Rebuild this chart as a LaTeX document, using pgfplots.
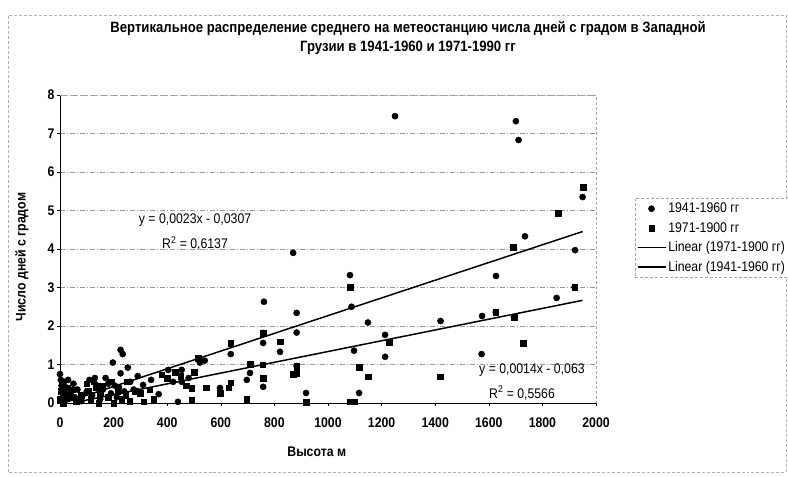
\documentclass[border=0pt]{standalone}
\usepackage{pgfplots}
\pgfplotsset{compat=1.18}
\usepackage{fontspec}
\setmainfont{Liberation Sans}[FakeStretch=0.88]
\pgfplotsset{
  mylines/.style={legend image code/.code={\draw[black, line width=1.5bp] (0bp,0bp) -- (28bp,0bp);}},
  mymarks/.style={legend image code/.code={\draw[##1,mark repeat=2,mark phase=2] plot coordinates {(0bp,0bp) (14bp,0bp) (28bp,0bp)};}}
}
\begin{document}
\begin{tikzpicture}
\path[use as bounding box] (0bp,0bp) rectangle (788bp,477bp);
\draw[gray!60, densely dashed, line width=0.6bp] (8bp,5bp) rectangle (786bp,462bp);
\node[font=\fontsize{15}{20}\selectfont\bfseries, align=center] at (408bp,439bp)
  {Вертикальное распределение среднего на метеостанцию числа дней с градом в Западной\\Грузии в 1941-1960 и 1971-1990 гг};
\begin{axis}[
  at={(60bp,74bp)}, anchor=south west,
  scale only axis, width=536bp, height=308bp,
  xmin=0, xmax=2000, ymin=0, ymax=8,
  xtick={0,200,...,2000}, ytick={0,1,...,8},
  axis lines*=left,
  axis line style={black, line width=0.7bp, -},
  tick align=outside, major tick length=3bp,
  tick style={black, line width=0.5bp},
  ymajorgrids,
  major grid style={gray!80, line width=0.5bp, dash pattern=on 5bp off 2bp on 1bp off 2bp},
  /pgf/number format/assume math mode=true,
  /pgf/number format/1000 sep={},
  ticklabel style={font=\fontsize{14}{16}\selectfont\bfseries},
  xticklabel style={yshift=-8bp},
  yticklabel style={xshift=1bp},
  xlabel={Высота м},
  ylabel={Число дней с градом},
  xlabel style={font=\fontsize{14}{16}\selectfont\bfseries, at={(axis description cs:0.479,0)}, anchor=center, yshift=-49bp},
  ylabel style={font=\fontsize{14}{16}\selectfont\bfseries, at={([xshift=-38bp]axis description cs:0,0.474)}, anchor=center},
  clip=false,
  legend style={at={(1.072,0.666)}, anchor=north west, draw=gray!70, densely dashed,
    font=\fontsize{14}{16}\selectfont, row sep=4bp, inner xsep=2bp, inner ysep=3bp,
    nodes={solid}},
  legend cell align=left,
]
\draw[gray!70, densely dashed, line width=0.5bp] (rel axis cs:0,1) -- (rel axis cs:1,1) -- (rel axis cs:1,0);
\addplot[only marks, mark=*, mark size=3.1bp, black, mymarks] coordinates {
(0,0.75)(3,0.6)(6,0.45)(8,0.3)(12,0.2)(15,0.55)(20,0.1)(25,0.4)(30,0.6)(40,0.25)(50,0.5)(55,0.15)(65,0.35)(80,0.05)(100,0.3)(110,0.6)(120,0.2)(130,0.65)(140,0.45)(150,0.1)(160,0.35)(170,0.65)(180,0.5)(190,0.25)(197,1.05)(205,0.45)(212,0.15)(220,0.4)(226,0.77)(226,1.38)(234,1.27)(240,0.3)(253,0.92)(262,0.55)(275,0.35)(290,0.7)(310,0.47)(340,0.6)(368,0.23)(404,0.86)(422,0.55)(440,0.03)(454,0.86)(454,0.55)(480,0.65)(522,1.05)(540,1.1)(597,0.39)(637,1.27)(697,0.6)(709,1.01)(709,0.78)(758,1.56)(758,1.82)(758,0.42)(761,2.63)(821,1.33)(870,3.9)(883,2.34)(883,1.83)(883,0.96)(918,0.26)(1082,3.32)(1082,3.01)(1088,2.5)(1097,1.36)(1116,0.26)(1149,2.09)(1213,1.77)(1213,1.2)(1250,7.45)(1420,2.13)(1573,1.27)(1575,2.26)(1626,2.36)(1627,3.3)(1690,4.05)(1694,2.23)(1701,7.32)(1711,6.83)(1735,4.33)(1853,2.73)(1920,3.01)(1922,3.97)(1950,5.35)
};
\addlegendentry{1941-1960 гг}
\addplot[only marks, mark=square*, mark size=2.8bp, black, mymarks] coordinates {
(0,0.1)(4,0.3)(8,0.5)(12,0.0)(18,0.25)(28,0.4)(38,0.15)(48,0.35)(60,0.05)(80,0.2)(100,0.5)(105,0.3)(115,0.1)(125,0.55)(135,0.4)(145,0.0)(150,0.25)(160,0.45)(180,0.15)(190,0.55)(200,0.0)(215,0.3)(230,0.1)(245,0.2)(250,0.55)(260,0.05)(280,0.3)(300,0.25)(313,0.03)(335,0.35)(350,0.1)(379,0.73)(400,0.65)(430,0.8)(450,0.7)(470,0.45)(491,0.39)(491,0.08)(500,0.8)(516,1.17)(545,0.4)(597,0.26)(630,0.4)(637,1.56)(637,0.53)(697,0.1)(709,1.01)(756,0.99)(758,0.64)(758,1.82)(821,1.59)(871,0.75)(883,0.77)(883,0.96)(918,0.02)(1082,3.01)(1082,0.03)(1097,0.03)(1116,0.93)(1149,0.68)(1228,1.58)(1418,0.68)(1626,2.36)(1690,4.05)(1694,2.23)(1728,1.56)(1858,4.93)(1920,3.01)(1952,5.6)
};
\addlegendentry{1971-1900 гг}
\addplot[black, line width=1.5bp, mylines] coordinates {(50,0.007) (1950,2.667)};
\addlegendentry{Linear (1971-1900 гг)}
\addplot[black, line width=1.5bp, mylines] coordinates {(20,0.015) (1950,4.454)};
\addlegendentry{Linear (1941-1960 гг)}
\node[font=\fontsize{14}{16}\selectfont] at (axis cs:504,4.75) {y = 0,0023x - 0,0307};
\node[font=\fontsize{14}{16}\selectfont] at (axis cs:504,4.15) {R\textsuperscript{2} = 0,6137};
\node[font=\fontsize{14}{16}\selectfont] at (axis cs:1761,0.86) {y = 0,0014x - 0,063};
\node[font=\fontsize{14}{16}\selectfont] at (axis cs:1724,0.26) {R\textsuperscript{2} = 0,5566};
\end{axis}
\end{tikzpicture}
\end{document}
